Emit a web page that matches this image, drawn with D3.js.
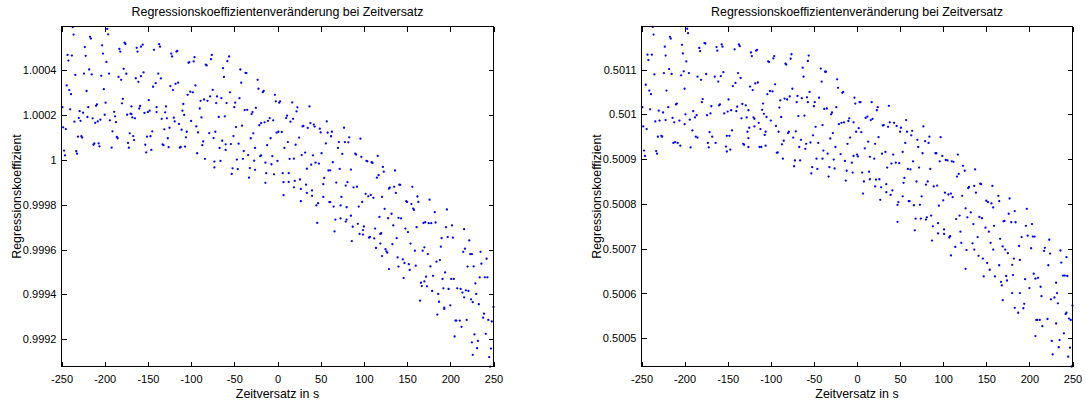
<!DOCTYPE html>
<html>
<head>
<meta charset="utf-8">
<script src="https://cdn.jsdelivr.net/npm/d3@7"></script>
<style>
  html, body { margin: 0; padding: 0; background: #ffffff; }
  svg { display: block; }
  text { font-family: "Liberation Sans", Arial, Helvetica, sans-serif; fill: #000; }
</style>
</head>
<body>
<svg id="figure" width="1086" height="401"></svg>
<script>
// ---------------------------------------------------------------
// Regression coefficient versus time shift (two measurement pairs)
// ---------------------------------------------------------------

const chartTitle = "Regressionskoeffizientenveränderung bei Zeitversatz";
const xAxisLabel = "Zeitversatz in s";
const yAxisLabel = "Regressionskoeffizient";

// shared x axis (time shift in seconds)
const xLimits = [-250, 250];
const xTicks = [-250, -200, -150, -100, -50, 0, 50, 100, 150, 200, 250];

// left panel: axis limits and ticks
const yLimitsA = [0.999078, 1.000596];
const yTicksA = [0.9992, 0.9994, 0.9996, 0.9998, 1.0, 1.0002, 1.0004];
const yTickLabelsA = ["0.9992", "0.9994", "0.9996", "0.9998", "1", "1.0002", "1.0004"];

// right panel: axis limits and ticks
const yLimitsB = [0.500437, 0.501196];
const yTicksB = [0.5005, 0.5006, 0.5007, 0.5008, 0.5009, 0.5010, 0.5011];
const yTickLabelsB = ["0.5005", "0.5006", "0.5007", "0.5008", "0.5009", "0.501", "0.5011"];

// left panel: time shift [s]
const shiftsA = [
  -237,-236,-217,-216,-197,-196,-223,-243,-238,-222,
  -203,-202,-242,-198,-177,-176,-183,-182,-163,-162,
  -158,-156,-143,-137,-136,-123,-122,-117,-116,-96,
  -103,-102,-97,-83,-82,-234,-224,-218,-215,-204,
  -195,-178,-175,-184,-181,-164,-158,-155,-161,-138,
  -135,-141,-144,-124,-121,-118,-115,-95,-101,-98,
  -104,-244,-241,-239,-221,-201,-249,-240,-229,-225,
  -219,-210,-209,-199,-179,-180,-169,-160,-159,-149,
  -140,-129,-109,-89,-85,-81,-235,-230,-228,-220,
  -214,-211,-208,-205,-200,-194,-189,-188,-187,-174,
  -170,-169,-168,-165,-154,-150,-148,-140,-134,-130,
  -128,-120,-119,-110,-108,-100,-90,-88,-248,-245,
  -231,-227,-226,-191,-186,-185,-171,-167,-166,-145,
  -151,-147,-131,-125,-127,-114,-111,-105,-106,-94,
  -92,-86,-212,-213,-207,-206,-192,-173,-172,-153,
  -152,-146,-133,-132,-126,-113,-112,-107,-87,-247,
  -246,-233,-232,-93,-84,
  -76,-77,-56,-58,-63,-62,-43,-37,-36,-42,
  -23,-75,-55,-70,-65,-78,-44,-22,-17,-16,
  -3,-59,-49,-50,-71,-38,-35,-25,-29,-30,
  -2,2,3,17,23,22,37,-68,-61,-48,
  -41,-9,-5,-15,-19,-21,-11,10,11,15,
  18,29,30,38,35,42,43,49,50,57,
  58,63,62,77,83,-79,-72,-74,-64,-60,
  -54,-51,-28,-31,-45,-67,-60,-39,-34,-26,
  -12,-8,-1,1,5,12,21,25,8,28,
  32,41,51,56,71,78,82,70,75,-73,
  -66,-73,-52,-47,-40,-46,-53,-33,-32,-27,
  -26,-20,-19,-14,-7,-6,0,-13,-4,6,
  13,14,19,34,39,44,48,59,61,64,
  72,85,-14,7,13,20,26,19,27,33,
  40,34,54,53,68,81,79,7,27,40,
  47,45,53,60,61,65,73,74,80,67,
  73,80,79,46,66,
  96,90,91,97,103,104,109,110,116,122,
  123,115,117,136,88,92,102,105,108,111,
  121,129,130,135,137,141,142,156,149,150,
  155,162,163,176,124,128,132,118,98,94,
  85,100,99,93,87,86,95,99,106,107,
  112,113,119,120,114,125,119,121,126,127,
  133,134,140,143,148,151,154,157,158,161,
  169,171,175,178,183,182,190,195,196,202,
  203,197,216,222,217,215,225,235,242,129,
  138,139,140,145,147,152,153,146,159,160,
  166,167,170,172,173,168,170,174,177,180,
  184,188,189,191,192,194,201,198,204,208,
  212,218,221,220,223,227,236,234,240,243,
  179,186,165,187,185,193,193,200,206,207,
  211,213,205,219,216,214,224,226,229,230,
  233,238,239,244,248,250,228,225,232,241,
  231,226,245,247,246
];

// left panel: regression coefficient
const coefsA = [
  1.000593,1.000560,1.000550,1.000542,1.000585,1.000561,1.000504,1.000469,1.000466,1.000465,
  1.000512,1.000475,1.000444,1.000438,1.000524,1.000518,1.000496,1.000484,1.000501,1.000484,
  1.000506,1.000515,1.000492,1.000517,1.000506,1.000475,1.000462,1.000484,1.000487,1.000459,
  1.000434,1.000437,1.000440,1.000426,1.000422,1.000380,1.000386,1.000404,1.000382,1.000376,
  1.000386,1.000407,1.000385,1.000371,1.000358,1.000365,1.000374,1.000391,1.000349,1.000386,
  1.000364,1.000343,1.000327,1.000330,1.000312,1.000340,1.000345,1.000333,1.000305,1.000302,
  1.000291,1.000333,1.000312,1.000294,1.000308,1.000316,1.000236,1.000226,1.000218,1.000211,
  1.000236,1.000242,1.000248,1.000256,1.000273,1.000253,1.000239,1.000230,1.000241,1.000267,
  1.000236,1.000239,1.000250,1.000264,1.000270,1.000264,1.000171,1.000187,1.000175,1.000192,
  1.000186,1.000166,1.000172,1.000180,1.000202,1.000177,1.000215,1.000195,1.000169,1.000202,
  1.000207,1.000205,1.000190,1.000186,1.000210,1.000214,1.000220,1.000214,1.000184,1.000213,
  1.000186,1.000189,1.000172,1.000220,1.000201,1.000174,1.000230,1.000190,1.000146,1.000138,
  1.000104,1.000106,1.000100,1.000128,1.000103,1.000097,1.000119,1.000107,1.000089,1.000128,
  1.000104,1.000106,1.000137,1.000144,1.000097,1.000161,1.000135,1.000126,1.000101,1.000150,
  1.000123,1.000083,1.000074,1.000068,1.000074,1.000061,1.000055,1.000076,1.000055,1.000068,
  1.000034,1.000045,1.000070,1.000066,1.000057,1.000055,1.000058,1.000060,1.000066,1.000042,
  1.000021,1.000039,1.000028,1.000030,1.000005,
  1.000469,1.000450,1.000462,1.000441,1.000410,1.000371,1.000404,1.000389,1.000388,1.000345,
  1.000358,1.000313,1.000302,1.000284,1.000276,1.000284,1.000276,1.000318,1.000303,1.000308,
  1.000291,1.000254,1.000256,1.000236,1.000254,1.000223,1.000224,1.000233,1.000214,1.000205,
  1.000262,1.000256,1.000262,1.000257,1.000235,1.000217,1.000239,1.000192,1.000195,1.000147,
  1.000153,1.000187,1.000177,1.000168,1.000165,1.000155,1.000175,1.000187,1.000198,1.000171,
  1.000184,1.000150,1.000152,1.000165,1.000143,1.000158,1.000149,1.000140,1.000123,1.000172,
  1.000122,1.000126,1.000106,1.000144,1.000101,1.000120,1.000126,1.000098,1.000086,1.000070,
  1.000071,1.000107,1.000119,1.000097,1.000073,1.000054,1.000045,1.000040,1.000022,1.000054,
  1.000066,1.000097,1.000122,1.000126,1.000125,1.000080,1.000068,1.000100,1.000054,1.000022,
  1.000033,1.000021,1.000030,1.000074,1.000080,1.000080,1.000079,1.000054,1.000027,0.999993,
  0.999996,0.999967,0.999963,1.000002,1.000005,0.999959,0.999938,0.999921,0.999964,0.999997,
  0.999956,1.000017,1.000021,0.999988,0.999981,1.000017,0.999996,0.999941,0.999936,0.999941,
  0.999941,1.000005,1.000006,0.999961,0.999979,0.999988,0.999984,0.999953,0.999954,0.999990,
  0.999960,0.999957,0.999898,0.999901,0.999902,0.999907,0.999913,0.999878,0.999871,0.999890,
  0.999864,0.999853,0.999920,0.999892,0.999899,0.999901,0.999886,0.999843,0.999816,0.999840,
  0.999807,0.999797,0.999835,0.999812,0.999812,0.999792,0.999797,0.999835,0.999789,0.999734,
  0.999739,0.999734,0.999725,0.999719,0.999681,
  1.000095,1.000028,1.000024,1.000014,0.999996,0.999994,0.999990,0.999987,1.000018,0.999969,
  0.999948,0.999921,0.999932,0.999953,0.999878,0.999881,0.999849,0.999838,0.999844,0.999831,
  0.999835,0.999872,0.999877,0.999880,0.999853,0.999890,0.999889,0.999880,0.999816,0.999812,
  0.999803,0.999837,0.999813,0.999823,0.999782,0.999740,0.999760,0.999746,0.999813,0.999792,
  0.999751,0.999703,0.999687,0.999715,0.999702,0.999638,0.999670,0.999667,0.999653,0.999657,
  0.999650,0.999694,0.999670,0.999673,0.999607,0.999602,0.999627,0.999571,0.999592,0.999586,
  0.999624,0.999708,0.999742,0.999739,0.999694,0.999678,0.999627,0.999783,0.999777,0.999700,
  0.999719,0.999722,0.999718,0.999718,0.999721,0.999767,0.999651,0.999700,0.999779,0.999708,
  0.999653,0.999656,0.999691,0.999641,0.999604,0.999590,0.999580,0.999590,0.999559,0.999513,
  0.999651,0.999565,0.999524,0.999556,0.999540,0.999535,0.999509,0.999473,0.999595,0.999528,
  0.999452,0.999437,0.999458,0.999479,0.999436,0.999595,0.999610,0.999580,0.999525,0.999483,
  0.999546,0.999553,0.999613,0.999469,0.999427,0.999498,0.999469,0.999424,0.999469,0.999427,
  0.999424,0.999418,0.999415,0.999524,0.999580,0.999525,0.999537,0.999476,0.999476,0.999476,
  0.999415,0.999402,0.999372,0.999367,0.999310,0.999335,0.999341,0.999351,0.999283,0.999283,
  0.999283,0.999255,0.999212,0.999286,0.999387,0.999408,0.999378,0.999365,0.999449,0.999402,
  0.999356,0.999296,0.999314,0.999286,0.999279,0.999344,0.999221,0.999186,0.999192,0.999224,
  0.999160,0.999130,0.999120,0.999158,0.999077
];

// right panel: time shift [s]
const shiftsB = [
  -237,-236,-243,-242,-238,-217,-216,-223,-222,-197,
  -196,-203,-202,-198,-183,-182,-177,-176,-163,-162,
  -157,-156,-142,-137,-136,-123,-122,-117,-116,-96,
  -97,-103,-102,-235,-224,-218,-215,-204,-201,-195,
  -185,-181,-175,-165,-161,-158,-155,-144,-141,-138,
  -135,-124,-121,-118,-115,-104,-101,-98,-95,-245,
  -241,-239,-221,-200,-249,-240,-234,-230,-229,-225,
  -222,-219,-214,-212,-210,-209,-206,-199,-194,-190,
  -188,-186,-180,-179,-174,-170,-169,-160,-159,-154,
  -150,-149,-146,-140,-139,-134,-133,-129,-128,-126,
  -120,-119,-110,-109,-108,-105,-100,-94,-248,-244,
  -231,-227,-226,-191,-187,-185,-200,-171,-168,-151,
  -148,-145,-127,-125,-132,-131,-126,-119,-114,-112,
  -106,-107,-213,-211,-208,-205,-193,-173,-172,-164,
  -152,-151,-147,-126,-113,-111,-106,-247,-246,-233,
  -232,-93,
  -76,-77,-83,-82,-56,-57,-63,-62,-42,-37,
  -36,-41,-23,-22,-17,-16,-75,-55,-44,-89,
  -84,-81,-78,-69,-64,-70,-58,-57,-49,-50,
  -38,-35,-29,-30,-24,-90,-3,-2,3,4,
  17,24,23,37,-88,-68,-61,-85,-87,-91,
  -80,-79,-71,-74,-65,-59,-60,-67,-54,-51,
  -48,-45,-40,-39,-34,-31,-28,-25,-21,-18,
  -15,-9,-10,-4,-8,-11,2,-1,5,10,
  12,16,18,13,21,25,30,31,36,38,
  43,46,51,50,57,58,64,63,56,70,
  71,-92,-86,-72,-66,-73,-52,-53,-47,-46,
  -40,-32,-26,-33,-27,-19,-14,-6,-12,-5,
  -4,0,1,9,15,20,29,33,40,35,
  42,45,49,53,65,59,62,72,-13,6,
  8,14,15,22,26,21,28,34,34,39,
  41,55,54,69,7,27,47,48,53,60,
  61,66,73,68,74,47,67,
  77,79,84,83,97,76,91,92,99,96,
  103,105,110,112,117,85,116,118,123,125,
  137,80,82,89,93,102,106,109,111,122,
  129,130,136,138,143,144,157,150,152,156,
  158,164,165,177,75,80,81,86,88,94,
  95,100,87,94,101,101,107,108,115,119,
  126,132,128,135,142,145,149,153,159,166,
  170,171,176,179,183,184,197,196,203,109,
  114,121,120,127,134,136,140,141,146,147,
  151,155,154,158,160,165,167,168,169,172,
  175,173,174,180,181,182,188,189,191,198,
  202,204,206,207,210,213,214,217,218,223,
  224,222,229,231,232,233,236,237,243,239,
  241,244,126,169,180,183,187,193,189,194,
  195,200,205,208,209,212,215,207,221,225,
  227,226,235,234,231,240,242,243,246,248,
  250,247,245,249
];

// right panel: regression coefficient
const coefsB = [
  0.501195,0.501178,0.501133,0.501121,0.501133,0.501173,0.501169,0.501151,0.501131,0.501191,
  0.501181,0.501155,0.501136,0.501118,0.501148,0.501141,0.501159,0.501158,0.501150,0.501142,
  0.501156,0.501151,0.501145,0.501156,0.501152,0.501138,0.501130,0.501142,0.501144,0.501130,
  0.501125,0.501118,0.501117,0.501089,0.501092,0.501101,0.501090,0.501087,0.501096,0.501092,
  0.501084,0.501077,0.501090,0.501084,0.501073,0.501085,0.501094,0.501063,0.501070,0.501092,
  0.501081,0.501062,0.501054,0.501069,0.501071,0.501045,0.501052,0.501051,0.501067,0.501066,
  0.501053,0.501045,0.501053,0.501057,0.501016,0.501011,0.500984,0.501008,0.500986,0.501004,
  0.500987,0.501016,0.500992,0.500982,0.501022,0.501024,0.500986,0.501000,0.500988,0.501007,
  0.500993,0.500998,0.501027,0.501034,0.500998,0.501002,0.501018,0.501020,0.501022,0.501002,
  0.501006,0.501033,0.501009,0.501007,0.501017,0.500991,0.501023,0.501020,0.500993,0.501009,
  0.500993,0.500990,0.501010,0.501024,0.501001,0.500994,0.500986,0.500974,0.500973,0.500967,
  0.500950,0.500952,0.500950,0.500964,0.500950,0.500948,0.500978,0.500960,0.500950,0.500952,
  0.500952,0.500964,0.500961,0.500970,0.500934,0.500932,0.500947,0.500973,0.500981,0.500967,
  0.500961,0.500954,0.500936,0.500938,0.500936,0.500930,0.500926,0.500936,0.500926,0.500936,
  0.500928,0.500917,0.500921,0.500927,0.500927,0.500927,0.500930,0.500919,0.500907,0.500918,
  0.500912,0.500914,
  0.501134,0.501124,0.501113,0.501111,0.501131,0.501119,0.501104,0.501084,0.501102,0.501095,
  0.501095,0.501073,0.501078,0.501059,0.501048,0.501050,0.501057,0.501050,0.501037,0.501031,
  0.501035,0.501033,0.501040,0.501041,0.501036,0.501027,0.501038,0.501027,0.501027,0.501018,
  0.501012,0.501013,0.501004,0.501000,0.501016,0.501015,0.501037,0.501024,0.501027,0.501027,
  0.501027,0.501016,0.501009,0.501019,0.500994,0.500996,0.500997,0.500941,0.500933,0.500961,
  0.500958,0.500961,0.500962,0.500948,0.500943,0.500934,0.500923,0.500927,0.500937,0.500953,
  0.500972,0.500936,0.500976,0.500919,0.500912,0.500946,0.500958,0.500927,0.500978,0.500981,
  0.500982,0.500991,0.500985,0.500982,0.500948,0.500934,0.500969,0.500961,0.500960,0.500992,
  0.500995,0.500987,0.500990,0.500939,0.500934,0.500949,0.500975,0.500976,0.500972,0.500982,
  0.500981,0.500974,0.500970,0.500961,0.500987,0.500961,0.500963,0.500953,0.500936,0.500943,
  0.500927,0.500915,0.500901,0.500897,0.500897,0.500884,0.500882,0.500868,0.500901,0.500878,
  0.500901,0.500882,0.500879,0.500861,0.500899,0.500911,0.500896,0.500892,0.500874,0.500870,
  0.500907,0.500910,0.500906,0.500924,0.500905,0.500901,0.500912,0.500916,0.500890,0.500881,
  0.500910,0.500892,0.500891,0.500916,0.500895,0.500878,0.500877,0.500881,0.500852,0.500870,
  0.500850,0.500872,0.500855,0.500854,0.500855,0.500839,0.500837,0.500844,0.500826,0.500820,
  0.500830,0.500858,0.500847,0.500850,0.500823,0.500809,0.500798,0.500804,0.500817,0.500806,
  0.500806,0.500797,0.500798,0.500767,0.500767,0.500760,0.500741,
  0.500973,0.500940,0.500950,0.500936,0.500949,0.500913,0.500913,0.500913,0.500907,0.500895,
  0.500898,0.500897,0.500895,0.500894,0.500910,0.500878,0.500861,0.500867,0.500885,0.500874,
  0.500877,0.500843,0.500850,0.500839,0.500841,0.500825,0.500821,0.500823,0.500815,0.500818,
  0.500835,0.500838,0.500840,0.500825,0.500845,0.500844,0.500840,0.500807,0.500804,0.500801,
  0.500792,0.500818,0.500806,0.500812,0.500817,0.500765,0.500770,0.500774,0.500750,0.500757,
  0.500796,0.500808,0.500718,0.500734,0.500733,0.500743,0.500725,0.500728,0.500766,0.500774,
  0.500790,0.500781,0.500770,0.500755,0.500771,0.500768,0.500747,0.500738,0.500751,0.500722,
  0.500761,0.500762,0.500778,0.500759,0.500784,0.500759,0.500789,0.500751,0.500755,0.500685,
  0.500704,0.500713,0.500738,0.500697,0.500712,0.500698,0.500726,0.500684,0.500678,0.500638,
  0.500668,0.500713,0.500653,0.500698,0.500638,0.500663,0.500626,0.500618,0.500705,0.500698,
  0.500690,0.500639,0.500629,0.500664,0.500641,0.500678,0.500706,0.500675,0.500726,0.500729,
  0.500701,0.500727,0.500727,0.500633,0.500635,0.500615,0.500594,0.500695,0.500702,0.500720,
  0.500689,0.500663,0.500591,0.500624,0.500601,0.500578,0.500696,0.500669,0.500681,0.500640,
  0.500640,0.500639,0.500655,0.500585,0.500601,0.500568,0.500557,0.500567,0.500601,0.500577,
  0.500632,0.500612,0.500644,0.500541,0.500541,0.500541,0.500527,0.500505,0.500543,0.500587,
  0.500464,0.500494,0.500496,0.500480,0.500533,0.500511,0.500554,0.500557,0.500544,0.500541,
  0.500573,0.500479,0.500459,0.500437
];

// ---------------------------------------------------------------
// drawing
// ---------------------------------------------------------------
const svg = d3.select("#figure");
const plotTop = 26.5;
const plotBottom = 366.5;
const tickLen = 5;
const labelFontSize = "12.4px";

function drawPanel(opts) {
  const x = d3.scaleLinear().domain(xLimits).range([opts.left, opts.right]);
  const y = d3.scaleLinear().domain(opts.yLimits).range([plotBottom, plotTop]);
  const g = svg.append("g");

  // data points
  g.append("g")
    .selectAll("circle")
    .data(d3.zip(opts.shifts, opts.coefs))
    .join("circle")
      .attr("cx", d => x(d[0]))
      .attr("cy", d => y(d[1]))
      .attr("r", 1.15)
      .attr("fill", "#0000ff");

  const labelOf = new Map(opts.yTicks.map((v, i) => [v, opts.yTickLabels[i]]));

  const styleAxis = sel => {
    sel.select(".domain").remove();
    sel.selectAll(".tick line").attr("stroke", "#000").attr("shape-rendering", "crispEdges");
    sel.selectAll(".tick text")
      .attr("fill", "#000")
      .style("font-family", '"Liberation Sans", Arial, Helvetica, sans-serif')
      .style("font-size", "11px");
  };

  // bottom axis with labels
  g.append("g")
    .attr("transform", `translate(0,${plotBottom})`)
    .call(d3.axisBottom(x).tickValues(xTicks).tickSizeInner(-tickLen).tickSizeOuter(0)
      .tickPadding(9).tickFormat(d => String(d)))
    .call(styleAxis);

  // top axis, ticks only
  g.append("g")
    .attr("transform", `translate(0,${plotTop})`)
    .call(d3.axisTop(x).tickValues(xTicks).tickSizeInner(-tickLen).tickSizeOuter(0).tickFormat(""))
    .call(styleAxis);

  // left axis with labels
  g.append("g")
    .attr("transform", `translate(${opts.left},0)`)
    .call(d3.axisLeft(y).tickValues(opts.yTicks).tickSizeInner(-tickLen).tickSizeOuter(0)
      .tickPadding(5).tickFormat(v => labelOf.get(v)))
    .call(styleAxis);

  // right axis, ticks only
  g.append("g")
    .attr("transform", `translate(${opts.right},0)`)
    .call(d3.axisRight(y).tickValues(opts.yTicks).tickSizeInner(-tickLen).tickSizeOuter(0).tickFormat(""))
    .call(styleAxis);

  // axes box
  g.append("rect")
    .attr("x", opts.left).attr("y", plotTop)
    .attr("width", opts.right - opts.left).attr("height", plotBottom - plotTop)
    .attr("fill", "none").attr("stroke", "#000").attr("stroke-width", 1)
    .attr("shape-rendering", "crispEdges");

  const cx = (opts.left + opts.right) / 2;

  g.append("text")
    .attr("x", cx).attr("y", 16)
    .attr("text-anchor", "middle")
    .style("font-size", labelFontSize)
    .text(chartTitle);

  g.append("text")
    .attr("x", cx).attr("y", 398)
    .attr("text-anchor", "middle")
    .style("font-size", labelFontSize)
    .text(xAxisLabel);

  g.append("text")
    .attr("transform", `translate(${opts.left - 41},${(plotTop + plotBottom) / 2}) rotate(-90)`)
    .attr("text-anchor", "middle")
    .style("font-size", labelFontSize)
    .text(yAxisLabel);
}

drawPanel({
  left: 61.5, right: 493.5,
  shifts: shiftsA, coefs: coefsA,
  yLimits: yLimitsA, yTicks: yTicksA, yTickLabels: yTickLabelsA
});

drawPanel({
  left: 641.5, right: 1072.5,
  shifts: shiftsB, coefs: coefsB,
  yLimits: yLimitsB, yTicks: yTicksB, yTickLabels: yTickLabelsB
});
</script>
</body>
</html>
